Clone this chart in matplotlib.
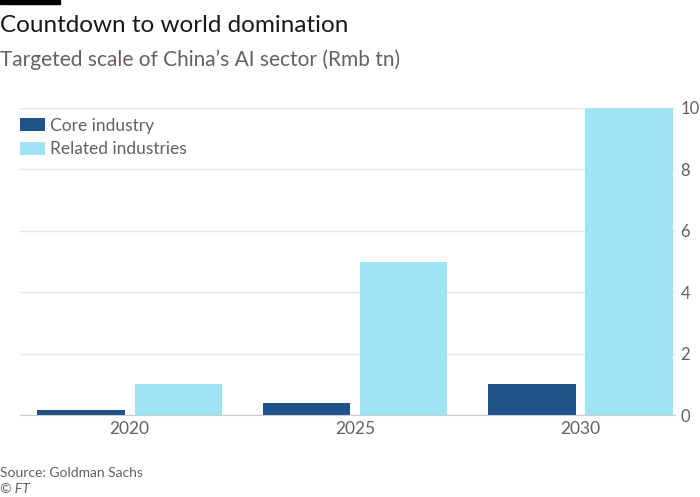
import matplotlib
matplotlib.use("Agg")
import matplotlib.pyplot as plt
import numpy as np
from matplotlib.patches import Rectangle

plt.rcParams["font.family"] = ["Lato", "DejaVu Sans"]

# Données
years = ["2020", "2025", "2030"]
core_industry = [0.15, 0.4, 1.0]
related_industries = [1.0, 5.0, 10.0]
y_ticks = [0, 2, 4, 6, 8, 10]

dark_blue = "#1f5289"
light_blue = "#9fe4f2"
text_grey = "#66605c"
grid_col = "#ebe2d8"

fig = plt.figure(figsize=(7, 4.97), dpi=100)
fig.patch.set_facecolor("white")

ax = fig.add_axes([20 / 700, 1 - 415 / 497, 655 / 700, 307 / 497])

x = np.arange(len(years))
width = 0.388
offset = 0.216
ax.bar(x - offset, core_industry, width, color=dark_blue, label="Core industry", zorder=3)
ax.bar(x + offset, related_industries, width, color=light_blue, label="Related industries", zorder=3)

ax.set_xlim(-0.486, 2.419)
ax.set_ylim(0, 10)

# Axe y à droite
ax.yaxis.tick_right()
ax.set_yticks(y_ticks)
ax.set_yticklabels([str(t) for t in y_ticks])
ax.set_xticks(x)
ax.set_xticklabels(years)
ax.tick_params(axis="both", length=0, labelsize=12.5, labelcolor=text_grey)
ax.tick_params(axis="y", pad=4, labelsize=12)
ax.tick_params(axis="x", pad=4)

ax.grid(axis="y", color=grid_col, linewidth=1, zorder=0)
for s in ["top", "left", "right"]:
    ax.spines[s].set_visible(False)
ax.spines["bottom"].set_color("#cccccc")
ax.spines["bottom"].set_zorder(4)
ax.set_facecolor("white")

# Légende
leg = ax.legend(loc="upper left", bbox_to_anchor=(0.0, 0.969), frameon=False,
                fontsize=12.5, handlelength=1.45, handleheight=0.8, handletextpad=0.3,
                labelspacing=0.45, borderaxespad=0, borderpad=0)
for t in leg.get_texts():
    t.set_color(text_grey)

# Titres
fig.add_artist(Rectangle((0, 1 - 4 / 497), 60 / 700, 4 / 497, transform=fig.transFigure,
                         color="black"))
fig.text(0.0, 1 - 32 / 497, "Countdown to world domination", fontsize=17.5,
         color="#1a1817", ha="left", va="baseline")
fig.text(0.0, 1 - 66 / 497, "Targeted scale of China’s AI sector (Rmb tn)", fontsize=15,
         color=text_grey, ha="left", va="baseline")

# Source
fig.text(0.0, 1 - 477 / 497, "Source: Goldman Sachs", fontsize=10, color=text_grey,
         ha="left", va="baseline")
fig.text(0.0, 1 - 493 / 497, "© FT", fontsize=10, color=text_grey, ha="left",
         va="baseline", style="italic")

fig.savefig("out.png", dpi=100, facecolor="white")
